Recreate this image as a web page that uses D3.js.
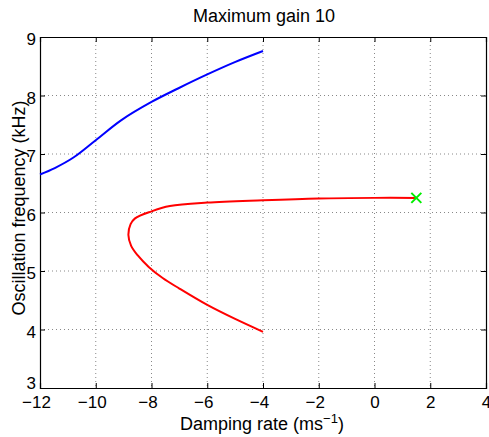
<!DOCTYPE html>
<html>
<head>
<meta charset="utf-8">
<script src="https://cdn.jsdelivr.net/npm/d3@7"></script>
<style>
body { margin: 0; background: #fff; }
text { font-family: "Liberation Sans", Arial, sans-serif; fill: #000; }
.grid line { stroke: #888; stroke-dasharray: 1,3; stroke-width: 1; }
</style>
</head>
<body>
<div id="chart"></div>
<script>
// damping rate (ms^-1) / oscillation frequency (kHz)
var blueX = [-12, -11.47, -10.8, -9.99, -9.08, -8, -7.05, -6, -5.01, -4];
var blueY = [6.65, 6.76, 6.94, 7.24, 7.58, 7.89, 8.12, 8.36, 8.57, 8.76];

var redX = [-4, -5, -6, -7, -7.6, -8.1, -8.5, -8.73, -8.83, -8.75, -8.59, -8, -7.34, -6, -4, -2, 0, 1.5];
var redY = [3.96, 4.18, 4.42, 4.70, 4.88, 5.07, 5.27, 5.43, 5.62, 5.80, 5.90, 6.02, 6.11, 6.17, 6.21, 6.24, 6.25, 6.25];

var endX = [1.5];
var endY = [6.25];

var xTicks = [-12, -10, -8, -6, -4, -2, 0, 2, 4];
var yTicks = [3, 4, 5, 6, 7, 8, 9];

var width = 489, height = 437;
var pLeft = 40, pRight = 486, pTop = 37, pBottom = 388;

var svg = d3.select("#chart").append("svg")
	.attr("width", width).attr("height", height);

var x = d3.scaleLinear().domain([-12, 4]).range([pLeft, pRight]);
var y = d3.scaleLinear().domain([3, 9]).range([pBottom, pTop]);

// grid
var grid = svg.append("g").attr("class", "grid");
grid.selectAll(".gx").data(xTicks.slice(1, -1)).enter().append("line")
	.attr("x1", function(d){ return x(d); }).attr("x2", function(d){ return x(d); })
	.attr("y1", pTop).attr("y2", pBottom);
grid.selectAll(".gy").data(yTicks.slice(1, -1)).enter().append("line")
	.attr("y1", function(d){ return y(d); }).attr("y2", function(d){ return y(d); })
	.attr("x1", pLeft).attr("x2", pRight);

// axes (ticks inward, matlab style)
var xAxis = d3.axisBottom(x).tickValues(xTicks).tickSize(-5).tickPadding(8)
	.tickFormat(function(d){ return d < 0 ? "\u2212" + Math.abs(d) : d; });
var yAxis = d3.axisLeft(y).tickValues(yTicks).tickSize(-5).tickPadding(4)
	.tickFormat(d3.format("d"));

var gx = svg.append("g").attr("transform", "translate(0," + pBottom + ")").call(xAxis);
var gy = svg.append("g").attr("transform", "translate(" + pLeft + ",0)").call(yAxis);
svg.append("g").attr("transform", "translate(0," + pTop + ")")
	.call(d3.axisTop(x).tickValues(xTicks).tickSize(-5).tickFormat(""));
svg.append("g").attr("transform", "translate(" + pRight + ",0)")
	.call(d3.axisRight(y).tickValues(yTicks).tickSize(-5).tickFormat(""));

svg.selectAll(".domain").attr("stroke", "#000").attr("stroke-width", 1.2);
svg.selectAll(".tick line").attr("stroke", "#000");
gx.selectAll("text").style("font-size", "17px").attr("dy", "0.71em").attr("y", 8)
	.attr("dx", function(d){ return d < 0 ? -4 : 0; });
gy.selectAll("text").style("font-size", "17px")
	.attr("dy", function(d){ return d == 3 ? "0.05em" : "0.45em"; });

// curves
var line = d3.line()
	.x(function(d){ return x(d[0]); })
	.y(function(d){ return y(d[1]); })
	.curve(d3.curveCatmullRom);

svg.append("path")
	.datum(d3.zip(blueX, blueY))
	.attr("d", line)
	.attr("fill", "none").attr("stroke", "#0000ff").attr("stroke-width", 2);

svg.append("path")
	.datum(d3.zip(redX, redY))
	.attr("d", line)
	.attr("fill", "none").attr("stroke", "#ff0000").attr("stroke-width", 2);

// end marker
svg.selectAll(".mk").data(d3.zip(endX, endY)).enter().append("path")
	.attr("d", "M-5,-5L5,5M-5,5L5,-5")
	.attr("transform", function(d){ return "translate(" + x(d[0]) + "," + y(d[1]) + ")"; })
	.attr("stroke", "#00ee00").attr("stroke-width", 2).attr("fill", "none");

// labels
svg.append("text")
	.attr("x", (pLeft + pRight) / 2 + 1).attr("y", 22)
	.attr("text-anchor", "middle").style("font-size", "18px")
	.text("Maximum gain 10");

var xl = svg.append("text")
	.attr("x", 262).attr("y", 430)
	.attr("text-anchor", "middle").style("font-size", "18px");
xl.append("tspan").text("Damping rate (ms");
xl.append("tspan").attr("dy", -7).style("font-size", "13px").text("\u22121");
xl.append("tspan").attr("dy", 7).text(")");

svg.append("text")
	.attr("transform", "translate(25,208) rotate(-90)")
	.attr("text-anchor", "middle").style("font-size", "18px")
	.text("Oscillation frequency (kHz)");
</script>
</body>
</html>
